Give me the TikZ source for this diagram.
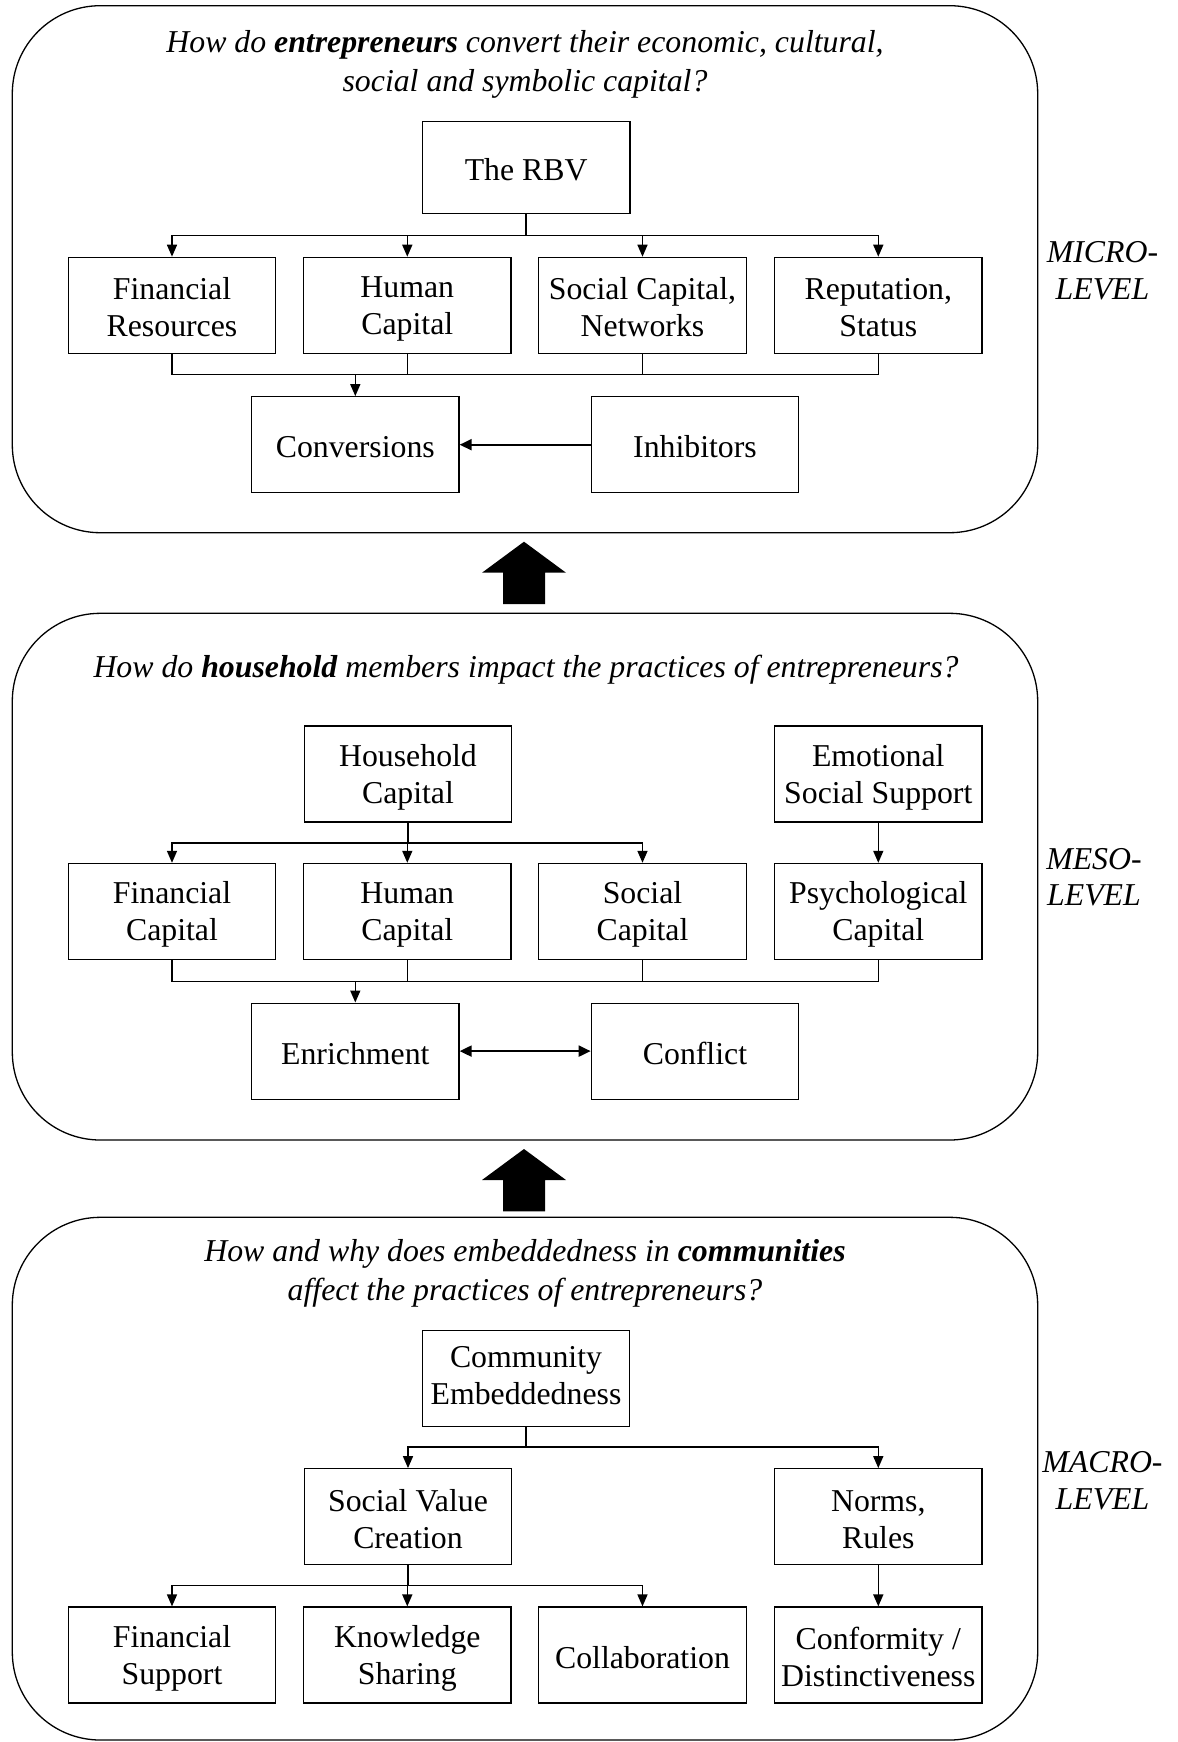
\documentclass[tikz,border=0pt]{standalone}
\usepackage{fontspec}
\setmainfont{Liberation Serif}
\usetikzlibrary{arrows.meta}
\newcommand\mystr{\rule[-0.06em]{0pt}{0.94em}}
\newcommand\mystrb{\rule[-0.24em]{0pt}{0.99em}}
\begin{document}
\begin{tikzpicture}[x=0.5pt,y=-0.5pt,
  box/.style={draw, line width=0.6pt, minimum width=103.75pt, minimum height=48pt, inner sep=0pt, align=center, font=\fontsize{15.9pt}{18.5pt}\selectfont},
  panel/.style={draw, line width=0.65pt, rounded corners=44pt},
  conn/.style={line width=0.65pt},
  arr/.style={line width=0.75pt, -{Triangle[length=6pt,width=5pt]}},
  harr/.style={line width=1pt, -{Triangle[length=6pt,width=5.5pt]}},
  title/.style={inner sep=0pt, align=center, font=\fontsize{15.9pt}{19.5pt}\selectfont\itshape},
  lvl/.style={inner sep=0pt, align=center, font=\fontsize{15.9pt}{18.25pt}\selectfont\itshape},
  bigarrow/.style={fill=black}
]
\useasboundingbox (0,0) rectangle (1178,1742);

% panels
\draw[panel] (12.3,5.7) rectangle (1037.7,532.7);
\draw[panel] (12.3,613.3) rectangle (1037.7,1140);
\draw[panel] (12.3,1217.3) rectangle (1037.7,1740);

% big arrows
\fill[bigarrow] (524,541.7) -- (566,572.7) -- (545,572.7) -- (545,604) -- (503,604) -- (503,572.7) -- (482,572.7) -- cycle;
\fill[bigarrow] (524,1149) -- (566,1180) -- (545,1180) -- (545,1211.3) -- (503,1211.3) -- (503,1180) -- (482,1180) -- cycle;

% ---------- MICRO ----------
\node[title] (t1) at (525,61) {\mystr How do \textbf{entrepreneurs} convert their economic, cultural,\\\mystr social and symbolic capital?};
\node[box, minimum height=46pt] (rbv) at (526.2,167.7) {\mystr The RBV};
\node[box] (fr) at (172,305.3) {\mystr Financial\\\mystr Resources};
\node[box] (hc) at (407.3,305.3) {\mystr Human\\\mystr Capital};
\node[box] (sc) at (642.5,305.3) {\mystr Social Capital,\\\mystr Networks};
\node[box] (rs) at (878.3,305.3) {\mystr Reputation,\\\mystr Status};
\node[box] (conv) at (355.3,444.7) {\mystr Conversions};
\node[box] (inh) at (695,444.7) {\mystr Inhibitors};
\node[lvl] (micro) at (1102.5,267.9) {\mystr MICRO-\\\mystr LEVEL};

\coordinate (bus1) at (0,235.3);
\coordinate (bus2) at (0,374.7);
\foreach \n in {fr,hc,sc,rs} \draw[arr] (rbv.south) |- (bus1 -| \n.north) -- (\n.north);
\foreach \n in {fr,hc,sc,rs} \draw[conn] (\n.south) |- (bus2 -| conv.north);
\draw[arr] (bus2 -| conv.north) -- (conv.north);
\draw[harr] (inh.west) -- (conv.east);

% ---------- MESO ----------
\node[title] (t2) at (526,667.2) {\mystr How do \textbf{household} members impact the practices of entrepreneurs?};
\node[box] (hh) at (408,773.9) {\mystr Household\\\mystr Capital};
\node[box] (ess) at (878.3,773.9) {\mystr Emotional\\\mystr Social Support};
\node[box] (fc) at (172,911.4) {\mystr Financial\\\mystr Capital};
\node[box] (hc2) at (407.3,911.4) {\mystr Human\\\mystr Capital};
\node[box] (sc2) at (642.5,911.4) {\mystr Social\\\mystr Capital};
\node[box] (pc) at (878.3,911.4) {\mystr Psychological\\\mystr Capital};
\node[box] (enr) at (355.3,1051.1) {\mystr Enrichment};
\node[box] (cfl) at (695,1051.1) {\mystr Conflict};
\node[lvl] (meso) at (1094,874.4) {\mystr MESO-\\\mystr LEVEL};

\coordinate (bus3) at (0,842.9);
\coordinate (bus4) at (0,981.8);
\foreach \n in {fc,hc2,sc2} \draw[arr] (hh.south) |- (bus3 -| \n.north) -- (\n.north);
\draw[arr] (ess.south) -- (pc.north);
\foreach \n in {fc,hc2,sc2,pc} \draw[conn] (\n.south) |- (bus4 -| enr.north);
\draw[arr] (bus4 -| enr.north) -- (enr.north);
\draw[harr, {Triangle[length=6pt,width=5.5pt]}-{Triangle[length=6pt,width=5.5pt]}] (enr.east) -- (cfl.west);

% ---------- MACRO ----------
\node[title] (t3) at (525,1270.2) {\mystr How and why does embeddedness in \textbf{communities}\\\mystr affect the practices of entrepreneurs?};
\node[box] (ce) at (526,1378.3) {\mystrb Community\\\mystrb Embeddedness};
\node[box] (svc) at (408,1516.7) {\mystr Social Value\\\mystr Creation};
\node[box] (nr) at (878.3,1516.7) {\mystr Norms,\\\mystr Rules};
\node[box] (fs) at (172,1655) {\mystr Financial\\\mystr Support};
\node[box] (ks) at (407.3,1655) {\mystr Knowledge\\\mystr Sharing};
\node[box] (col) at (642.5,1655) {\mystr Collaboration};
\node[box] (cd) at (878.3,1655) {\mystr Conformity /\\\mystr Distinctiveness};
\node[lvl] (macro) at (1102.5,1477.9) {\mystr MACRO-\\\mystr LEVEL};

\coordinate (bus5) at (0,1446.8);
\coordinate (bus6) at (0,1585.5);
\foreach \n in {svc,nr} \draw[arr] (ce.south) |- (bus5 -| \n.north) -- (\n.north);
\foreach \n in {fs,ks,col} \draw[arr] (svc.south) |- (bus6 -| \n.north) -- (\n.north);
\draw[arr] (nr.south) -- (cd.north);
\end{tikzpicture}
\end{document}
